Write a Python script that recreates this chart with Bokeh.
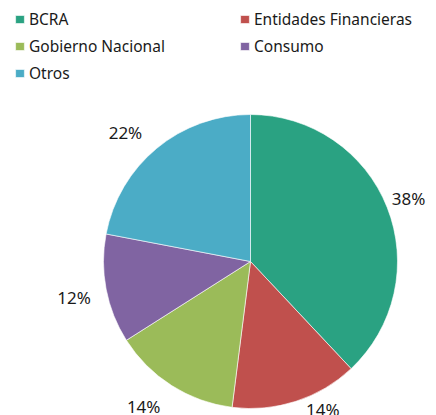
import math
from bokeh.plotting import figure
from bokeh.models import ColumnDataSource, Range1d, Legend, LegendItem
from bokeh.core.properties import value
from bokeh.embed import file_html
from bokeh.resources import INLINE

# ---- data ----
categories = ["BCRA", "Entidades Financieras", "Gobierno Nacional", "Consumo", "Otros"]
shares = [38, 14, 14, 12, 22]
pct_labels = ["38%", "14%", "14%", "12%", "22%"]

# ---- style ----
colors = ["#2aa282", "#c0504d", "#9bbb59", "#8064a2", "#4bacc6"]
label_angle_shift_deg = [0, 8, -4, 0.7, 4.4]
label_radius = [170, 165, 180, 180, 180]
legend_order = [0, 2, 4, 1, 3]   # row-major look with column-filled legend
W, H = 436, 415
CX, CY, R = 250, 154, 147

total = sum(shares)
starts, ends, lx, ly = [], [], [], []
cum = 0.0
for i, s in enumerate(shares):
    a0 = math.pi / 2 - 2 * math.pi * cum / total
    cum += s
    a1 = math.pi / 2 - 2 * math.pi * cum / total
    starts.append(a0)
    ends.append(a1)
    mid = (a0 + a1) / 2 + math.radians(label_angle_shift_deg[i])
    lx.append(CX + label_radius[i] * math.cos(mid))
    ly.append(CY + label_radius[i] * math.sin(mid))

src = ColumnDataSource(dict(cat=categories, start=starts, end=ends, color=colors,
                            lx=lx, ly=ly, lab=pct_labels))

p = figure(width=W, height=H, x_range=Range1d(0, W), y_range=Range1d(0, H),
           output_backend="svg", toolbar_location=None, min_border=0)
p.axis.visible = False
p.grid.visible = False
p.outline_line_color = None

wr = p.wedge(x=CX, y=CY, radius=R, start_angle="start", end_angle="end",
             direction="clock", fill_color="color", line_color="white",
             line_width=0.6, source=src)

p.text(x="lx", y="ly", text="lab", source=src, text_align="center",
       text_baseline="middle", text_font=value("Noto Sans"),
       text_font_size="17px", text_color="#1a1a1a")

legend = Legend(items=[LegendItem(label=categories[i], renderers=[wr], index=i) for i in legend_order],
                location=(14, 331), orientation="vertical", ncols=2,
                glyph_width=11, glyph_height=10, label_standoff=4,
                label_width=205, label_height=22, spacing=5,
                padding=0, margin=0,
                label_text_font="Noto Sans", label_text_font_size="15.5px",
                label_text_color="#1a1a1a",
                border_line_color=None, background_fill_alpha=0)
p.add_layout(legend)

open("out.html", "w").write(file_html(p, INLINE))
